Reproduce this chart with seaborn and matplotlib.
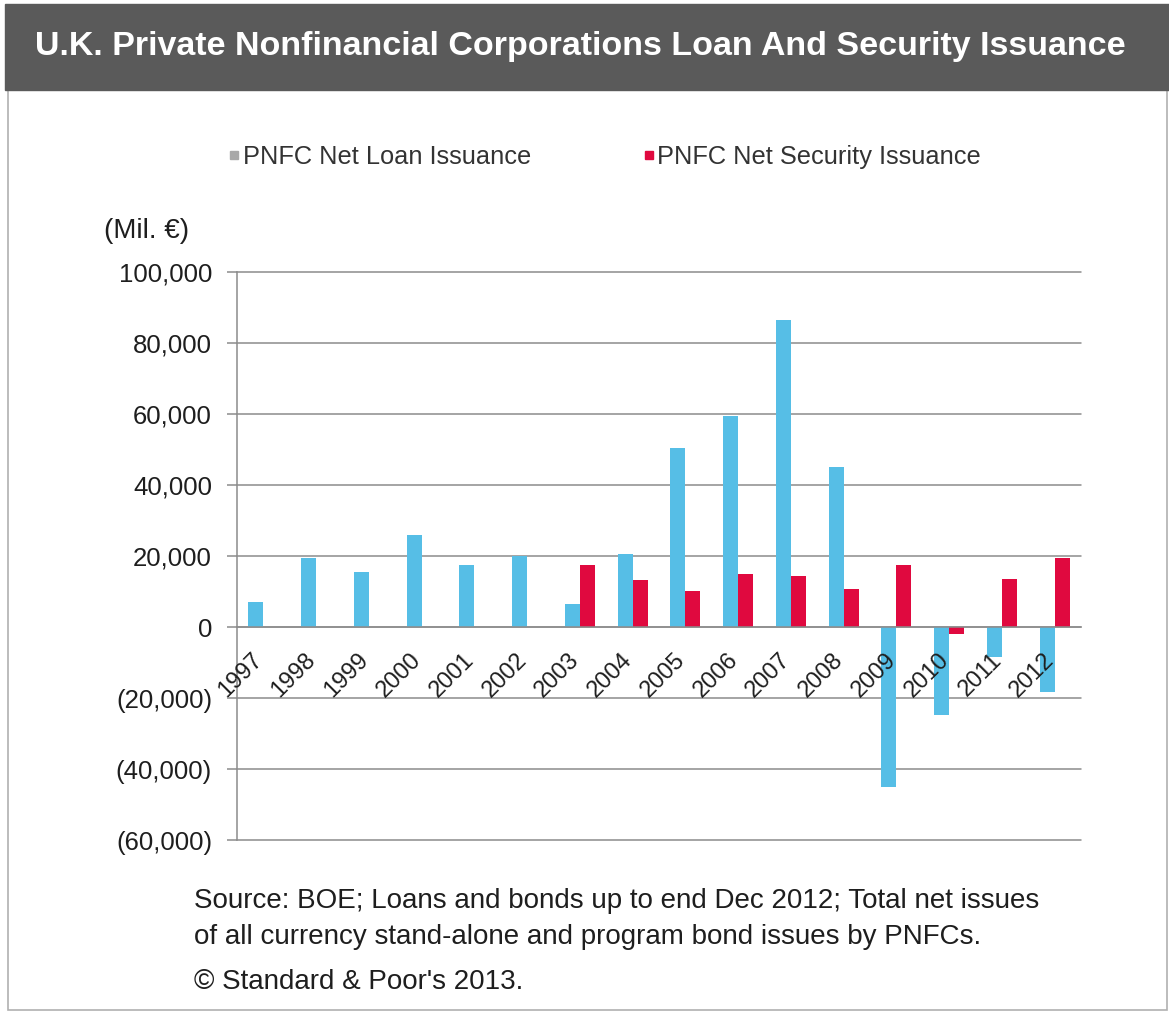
import numpy as np
import pandas as pd
import matplotlib
matplotlib.use("Agg")
import matplotlib.pyplot as plt
import seaborn as sns
from matplotlib.patches import Rectangle
from matplotlib.lines import Line2D
from matplotlib.ticker import FuncFormatter
from matplotlib.transforms import ScaledTranslation

# ---------------- data ----------------
years = [str(y) for y in range(1997, 2013)]
loan_issuance = [7000, 19500, 15600, 26000, 17600, 20100, 6600, 20600,
                 50400, 59300, 86600, 45100, -45100, -24800, -8500, -18400]
security_issuance = [0, 0, 0, 0, 0, 0, 17600, 13100,
                     10100, 15000, 14300, 10600, 17600, -2100, 13600, 19300]
series_names = ["PNFC Net Loan Issuance", "PNFC Net Security Issuance"]
y_ticks = [-60000, -40000, -20000, 0, 20000, 40000, 60000, 80000, 100000]

title = "U.K. Private Nonfinancial Corporations Loan And Security Issuance"
unit_label = "(Mil. \u20ac)"
source_lines = [
    "Source: BOE; Loans and bonds up to end Dec 2012; Total net issues",
    "of all currency stand-alone and program bond issues by PNFCs.",
    "\u00a9 Standard & Poor's 2013.",
]

df = pd.DataFrame({
    "Year": years * 2,
    "Value": loan_issuance + security_issuance,
    "Series": [series_names[0]] * len(years) + [series_names[1]] * len(years),
})

# ---------------- style ----------------
blue = "#56BEE6"
red = "#E0093F"
grid_col = "#8c8c8c"
text_col = "#1e1e1e"

sns.set_theme(style="white")
plt.rcParams["font.family"] = ["Liberation Sans", "DejaVu Sans"]

W, H = 1169, 1013
fig = plt.figure(figsize=(W / 100, H / 100), dpi=100)
fig.patch.set_facecolor("white")

# title bar and frame
fig.patches.append(Rectangle((8 / W, 3 / H), 1 - 10 / W, 1 - 3 / H - 90 / H,
                             transform=fig.transFigure, fill=False,
                             edgecolor="#b0b0b0", lw=1.2, zorder=0))
fig.patches.append(Rectangle((5 / W, 1 - 90 / H), 1 - 5 / W, 86 / H,
                             transform=fig.transFigure, color="#5a5a5a", zorder=1))
fig.text(35 / W, 1 - 47 / H, title, color="white", weight="bold",
         fontsize=24.5, va="center", ha="left")

ax = fig.add_axes([237 / W, 1 - 840 / H, (1081 - 237) / W, (840 - 272) / H])
sns.barplot(data=df, x="Year", y="Value", hue="Series", hue_order=series_names,
            palette=[blue, red], width=0.57, errorbar=None, saturation=1,
            linewidth=0, legend=False, ax=ax, zorder=2)
ax.set_axisbelow(False)

ax.set_ylim(-60000, 100000)
ax.set_yticks(y_ticks)
ax.yaxis.set_major_formatter(FuncFormatter(
    lambda v, _: f"{v:,.0f}" if v >= 0 else f"({-v:,.0f})"))
# horizontal gridlines behind bars (tick labels stay on top of bars)
for v in y_ticks:
    ax.axhline(v, color=grid_col, lw=1.1, zorder=0.5, clip_on=False)
ax.set_xlabel("")
ax.set_ylabel("")

for s in ["top", "right"]:
    ax.spines[s].set_visible(False)
ax.spines["left"].set_color(grid_col)
ax.spines["left"].set_linewidth(1.1)
ax.spines["bottom"].set_position(("data", 0))
ax.spines["bottom"].set_color(grid_col)
ax.spines["bottom"].set_linewidth(1.1)

ax.set_xticks(range(len(years)))
ax.set_xticks(np.arange(-0.5, len(years), 1), minor=True)
ax.set_xticklabels(years, rotation=45, ha="right", va="top")
ax.tick_params(axis="x", which="major", length=0, pad=16, labelsize=17,
               labelcolor=text_col)
ax.tick_params(axis="x", which="minor", length=6, width=1.1, color=grid_col,
               direction="out")
ax.tick_params(axis="y", length=7, width=1.1, color=grid_col, direction="out",
               pad=11, labelsize=18.5, labelcolor=text_col, left=True)
off = ScaledTranslation(4 / 100, 0, fig.dpi_scale_trans)
for lab in ax.get_xticklabels():
    lab.set_transform(lab.get_transform() + off)

fig.text(104 / W, 1 - 231 / H, unit_label, fontsize=20, color=text_col,
         va="center", ha="left")

handles = [
    Line2D([], [], marker="s", ls="", color="#a8a8a8", markersize=6,
           label=series_names[0]),
    Line2D([], [], marker="s", ls="", color=red, markersize=6,
           label=series_names[1]),
]
fig.legend(handles=handles, loc="center", bbox_to_anchor=(604 / W, 1 - 157 / H),
           ncol=2, frameon=False, fontsize=18.3, handletextpad=0.05,
           columnspacing=4.3, handlelength=0.6, labelcolor="#333333")

for txt, yy in zip(source_lines, [901, 937, 982]):
    fig.text(194 / W, 1 - yy / H, txt, fontsize=20, color=text_col,
             va="center", ha="left")

fig.savefig("out.png", dpi=100, facecolor="white")
